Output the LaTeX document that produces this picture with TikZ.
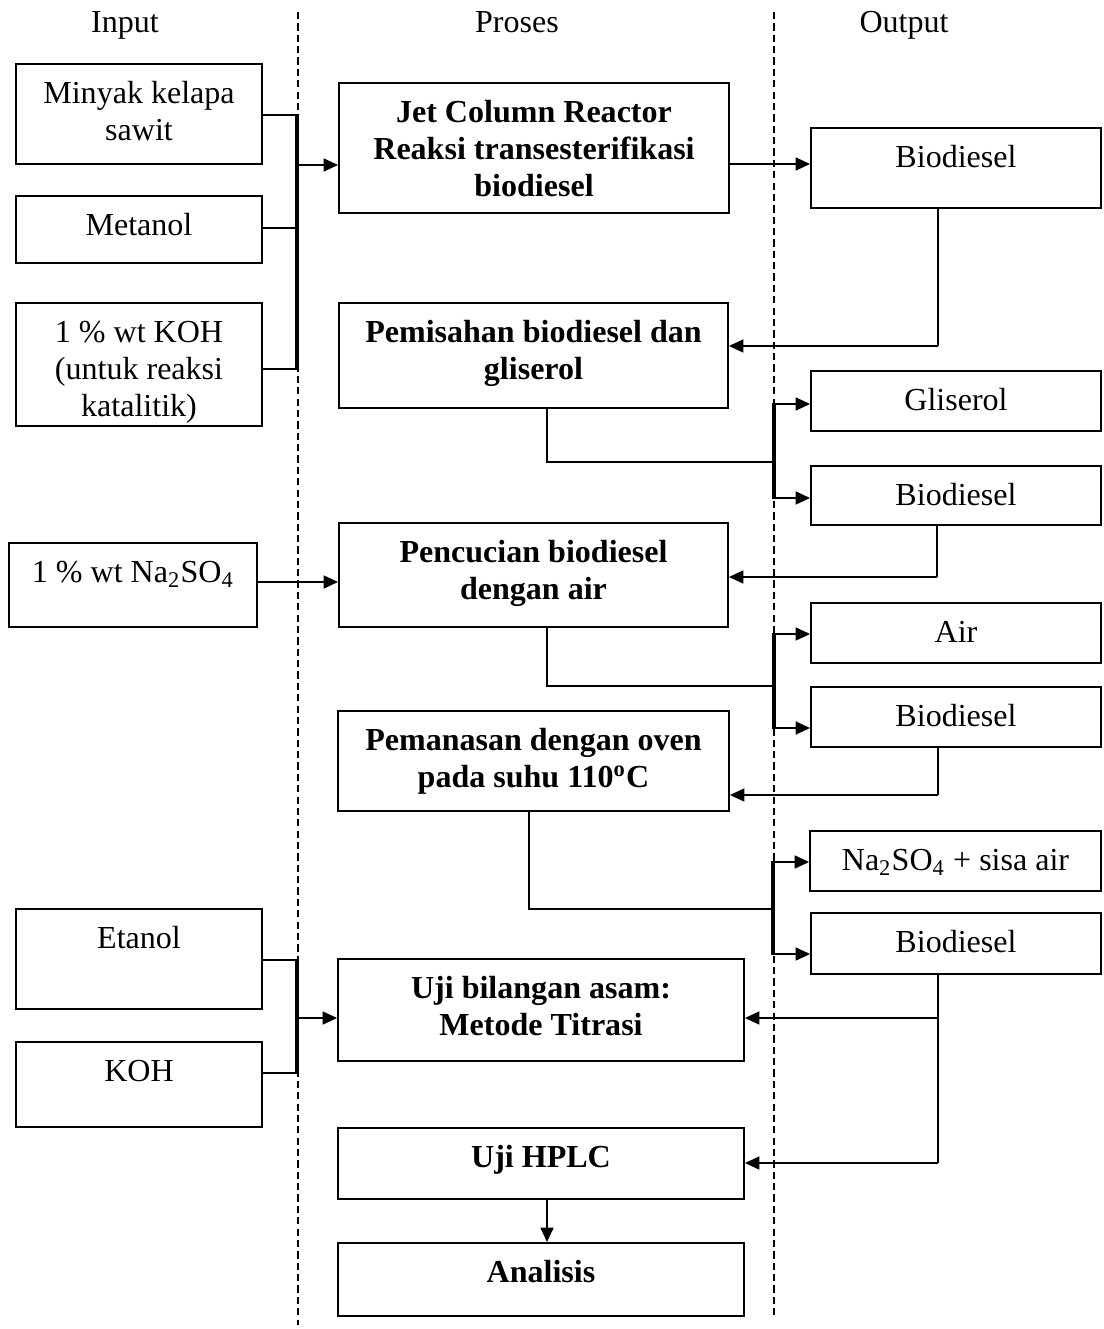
\documentclass[tikz,border=0pt]{standalone}
\usepackage{fontspec}
\setmainfont{Liberation Serif}
\usetikzlibrary{fit,arrows.meta}
\newcommand\fs{\rule{0pt}{10.8pt}}
\begin{document}
\begin{tikzpicture}[x=0.387pt,y=-0.387pt,
  box/.style={draw, line width=0.7pt, inner sep=0pt},
  lbl/.style={anchor=north, align=center, inner sep=0pt, font=\fontsize{12.4}{14.32}\selectfont},
  blbl/.style={lbl, font=\fontsize{12.4}{14.32}\selectfont\bfseries},
  head/.style={anchor=base, inner sep=0pt, font=\fontsize{12.4}{14.32}\selectfont},
  arr/.style={-{Triangle[length=5.6pt,width=5pt]}, line width=0.75pt},
  feed/.style={line width=1.1pt},
  bar/.style={line width=1.7pt},
  retline/.style={line width=0.65pt},
  divider/.style={dash pattern=on 2.8pt off 1.6pt, line width=0.5pt}]
\useasboundingbox (0,0) rectangle (1103,1329);

% headers
\node[head] (hin) at (125,33) {Input};
\node[head] (hpr) at (517,33) {Proses};
\node[head] (hout) at (904,33) {Output};

% dividers
\coordinate (d1t) at (298,12); \coordinate (d1b) at (298,1325);
\coordinate (d2t) at (774,12); \coordinate (d2b) at (774,1318);
\draw[divider] (d1t) -- (d1b);
\draw[divider] (d2t) -- (d2b);

% boxes
\node[box, fit={(16,64)(262,164)}] (mks) {};
\node[box, fit={(16,196)(262,263)}] (met) {};
\node[box, fit={(16,303)(262,426)}] (koh) {};
\node[box, fit={(339,83)(729,213)}] (reactor) {};
\node[box, fit={(811,128)(1101,208)}] (bio1) {};
\node[box, fit={(339,303)(728,408)}] (pem) {};
\node[box, fit={(811,371)(1101,431)}] (gli) {};
\node[box, fit={(811,466)(1101,525)}] (bio2) {};
\node[box, fit={(9,543)(257,627)}] (na) {};
\node[box, fit={(339,523)(728,627)}] (pen) {};
\node[box, fit={(811,603)(1101,663)}] (air) {};
\node[box, fit={(811,687)(1101,747)}] (bio3) {};
\node[box, fit={(338,711)(729,811)}] (pnas) {};
\node[box, fit={(810,831)(1101,891)}] (nas) {};
\node[box, fit={(811,913)(1101,974)}] (bio4) {};
\node[box, fit={(16,909)(262,1009)}] (eta) {};
\node[box, fit={(16,1042)(262,1127)}] (koh2) {};
\node[box, fit={(338,959)(744,1061)}] (uji) {};
\node[box, fit={(338,1128)(744,1199)}] (hplc) {};
\node[box, fit={(338,1243)(744,1316)}] (ana) {};

% labels
\node[lbl] (tmks) at ([yshift=-4.64pt]mks.north) {\fs Minyak kelapa\\sawit};
\node[lbl] (tmet) at ([yshift=-4.64pt]met.north) {\fs Metanol};
\node[lbl] (tkoh) at ([yshift=-4.64pt]koh.north) {\fs 1 \% wt KOH\\(untuk reaksi\\katalitik)};
\node[blbl] (treac) at ([yshift=-4.64pt]reactor.north) {\fs Jet Column Reactor\\Reaksi transesterifikasi\\biodiesel};
\node[lbl] (tbio1) at ([yshift=-4.64pt]bio1.north) {\fs Biodiesel};
\node[blbl] (tpem) at ([yshift=-4.64pt]pem.north) {\fs Pemisahan biodiesel dan\\gliserol};
\node[lbl] (tgli) at ([yshift=-4.64pt]gli.north) {\fs Gliserol};
\node[lbl] (tbio2) at ([yshift=-4.64pt]bio2.north) {\fs Biodiesel};
\node[lbl] (tna) at ([yshift=-4.64pt]na.north) {\fs 1 \% wt Na\textsubscript{2}SO\textsubscript{4}};
\node[blbl] (tpen) at ([yshift=-4.64pt]pen.north) {\fs Pencucian biodiesel\\dengan air};
\node[lbl] (tair) at ([yshift=-4.64pt]air.north) {\fs Air};
\node[lbl] (tbio3) at ([yshift=-4.64pt]bio3.north) {\fs Biodiesel};
\node[blbl] (tpnas) at ([yshift=-4.64pt]pnas.north) {\fs Pemanasan dengan oven\\pada suhu 110\textsuperscript{o}C};
\node[lbl] (tnas) at ([yshift=-4.64pt]nas.north) {\fs Na\textsubscript{2}SO\textsubscript{4} + sisa air};
\node[lbl] (tbio4) at ([yshift=-4.64pt]bio4.north) {\fs Biodiesel};
\node[lbl] (teta) at ([yshift=-4.64pt]eta.north) {\fs Etanol};
\node[lbl] (tkoh2) at ([yshift=-4.64pt]koh2.north) {\fs KOH};
\node[blbl] (tuji) at ([yshift=-4.64pt]uji.north) {\fs Uji bilangan asam:\\Metode Titrasi};
\node[blbl] (thplc) at ([yshift=-4.64pt]hplc.north) {\fs Uji HPLC};
\node[blbl] (tana) at ([yshift=-4.64pt]ana.north) {\fs Analisis};

% input bracket 1
\coordinate (j1a) at (297,115);
\coordinate (j1b) at (297,228);
\coordinate (j1c) at (297,369);
\coordinate (j1m) at (297,165);
\draw[feed] (mks.east |- j1a) -- (j1a);
\draw[feed] (met.east |- j1b) -- (j1b);
\draw[feed] (koh.east |- j1c) -- (j1c);
\draw[bar] ([yshift=0.5pt]j1a) -- ([yshift=-0.5pt]j1c);
\draw[arr] (j1m) -- (reactor.west |- j1m);

% reactor to biodiesel
\draw[arr] (reactor.east |- 0,164) -- (bio1.west |- 0,164);
% biodiesel back to pemisahan
\coordinate (r1) at (938,346);
\draw[retline] (bio1.south -| r1) -- (r1);
\draw[arr] (r1) -- (pem.east |- r1);

% split 1
\coordinate (s1) at (774,462);
\draw[feed] (547,0 |- pem.south) |- (s1);
\draw[bar] (s1 |- 0,403) -- (s1 |- 0,499);
\draw[arr] (s1 |- 0,404) -- (gli.west |- 0,404);
\draw[arr] (s1 |- 0,498) -- (bio2.west |- 0,498);
% biodiesel 2 back to pencucian
\coordinate (r2) at (937,577);
\draw[retline] (bio2.south -| r2) -- (r2);
\draw[arr] (r2) -- (pen.east |- r2);
% Na2SO4 input
\draw[arr] (na.east |- 0,582) -- (pen.west |- 0,582);

% split 2
\coordinate (s2) at (774,686);
\draw[feed] (547,0 |- pen.south) |- (s2);
\draw[bar] (s2 |- 0,633) -- (s2 |- 0,729);
\draw[arr] (s2 |- 0,634) -- (air.west |- 0,634);
\draw[arr] (s2 |- 0,728) -- (bio3.west |- 0,728);
% biodiesel 3 back to pemanasan
\coordinate (r3) at (938,795);
\draw[retline] (bio3.south -| r3) -- (r3);
\draw[arr] (r3) -- (pnas.east |- r3);

% split 3
\coordinate (s3) at (773,909);
\draw[feed] (529,0 |- pnas.south) |- (s3);
\draw[bar] (s3 |- 0,861) -- (s3 |- 0,955);
\draw[arr] (s3 |- 0,862) -- (nas.west |- 0,862);
\draw[arr] (s3 |- 0,954) -- (bio4.west |- 0,954);
% biodiesel 4 to tests
\coordinate (r4a) at (938,1018);
\coordinate (r4b) at (938,1163);
\draw[retline] (bio4.south -| r4b) -- (r4b);
\draw[arr] (r4a) -- (uji.east |- r4a);
\draw[arr] (r4b) -- (hplc.east |- r4b);

% input bracket 2
\coordinate (j2a) at (297,960);
\coordinate (j2b) at (297,1073);
\coordinate (j2m) at (297,1018);
\draw[feed] (eta.east |- j2a) -- (j2a);
\draw[feed] (koh2.east |- j2b) -- (j2b);
\draw[bar] ([yshift=0.5pt]j2a) -- ([yshift=-0.5pt]j2b);
\draw[arr] (j2m) -- (uji.west |- j2m);

% HPLC to analisis
\draw[arr] (547,0 |- hplc.south) -- (547,0 |- ana.north);
\end{tikzpicture}
\end{document}
